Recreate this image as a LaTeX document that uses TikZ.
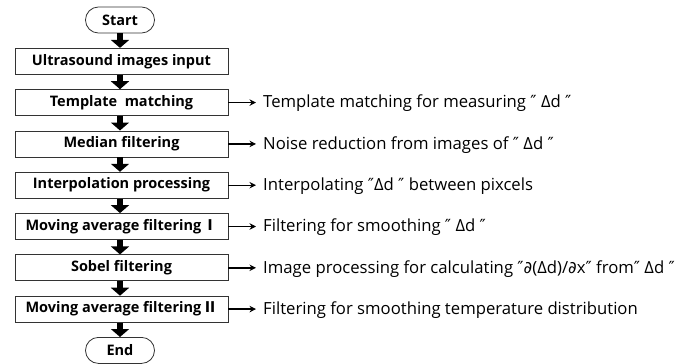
\documentclass[tikz,border=0pt]{standalone}
\usepackage{fontspec}
\setmainfont{Open Sans}
\newfontfamily\symfont{DejaVu Sans}
\newfontfamily\cjkfont{Noto Sans CJK JP}
\usetikzlibrary{arrows.meta}

% slanted double quote and partial sign
\newcommand\dqm{{\symfont ″}}
\newcommand\pdm{{\symfont ∂}}

\tikzset{
  procbox/.style={draw=black!80, line width=0.8pt, minimum width=213pt,
    minimum height=26pt, inner sep=0pt,
    font=\bfseries\fontsize{14.5}{16}\selectfont},
  terminal/.style={draw=black!80, line width=0.8pt, rounded corners=12.9pt,
    minimum width=69pt, minimum height=26pt, inner sep=0pt,
    font=\bfseries\fontsize{14.5}{16}\selectfont},
  note/.style={anchor=west, inner sep=0pt,
    font=\fontsize{16.7}{19}\selectfont},
  flow/.style={line width=6pt, -{Triangle[width=18pt,length=8pt]}},
  side/.style={line width=1.4pt, -{Stealth[length=6.5pt,width=6.5pt]},
    shorten >=7pt}
}

\begin{document}
\begin{tikzpicture}[x=1pt,y=-1pt]
\useasboundingbox (0,0) rectangle (688,364);

% main column
\node[terminal] (start) at (120,20)    {Start};
\node[procbox]  (b1)    at (121.5,61.3)  {Ultrasound images input};
\node[procbox]  (b2)    at (121.5,102.6) {Template\ \ matching};
\node[procbox]  (b3)    at (121.5,143.9) {Median filtering};
\node[procbox]  (b4)    at (121.5,185.2) {Interpolation processing};
\node[procbox]  (b5)    at (121.5,226.5) {Moving average filtering\hspace{0.12em}{\cjkfont Ⅰ}};
\node[procbox]  (b6)    at (121.5,267.8) {Sobel filtering};
\node[procbox]  (b7)    at (121.5,309.1) {Moving average filtering\hspace{0.12em}{\cjkfont Ⅱ}};
\node[terminal] (end)   at (120,350.4) {End};

% downward block arrows
\draw[flow] (start.south -| 120,0) -- (b1.north -| 120,0);
\draw[flow] (b1.south -| 120,0) -- (b2.north -| 120,0);
\draw[flow] (b2.south -| 120,0) -- (b3.north -| 120,0);
\draw[flow] (b3.south -| 120,0) -- (b4.north -| 120,0);
\draw[flow] (b4.south -| 120,0) -- (b5.north -| 120,0);
\draw[flow] (b5.south -| 120,0) -- (b6.north -| 120,0);
\draw[flow] (b6.south -| 120,0) -- (b7.north -| 120,0);
\draw[flow] (b7.south -| 120,0) -- (end.north -| 120,0);

% explanations
\node[note] (t2) at (263,103.6) {Template matching for measuring \dqm\ Δd \dqm};
\node[note] (t3) at (263,144.9) {Noise reduction from images of \dqm\ Δd \dqm};
\node[note] (t4) at (263,186.2) {Interpolating \dqm Δd \dqm\ between pixcels};
\node[note] (t5) at (263,227.5) {Filtering for smoothing \dqm\ Δd \dqm};
\node[note] (t6) at (263,268.8) {Image processing for calculating \dqm\pdm(Δd)/\pdm x\dqm\ from\dqm\ Δd \dqm};
\node[note] (t7) at (263,310.1) {Filtering for smoothing temperature distribution};

\draw[side] (b2.east) -- (b2.east -| t2.west);
\draw[side] (b3.east) -- (b3.east -| t3.west);
\draw[side] (b4.east) -- (b4.east -| t4.west);
\draw[side] (b5.east) -- (b5.east -| t5.west);
\draw[side] (b6.east) -- (b6.east -| t6.west);
\draw[side] (b7.east) -- (b7.east -| t7.west);
\end{tikzpicture}
\end{document}
